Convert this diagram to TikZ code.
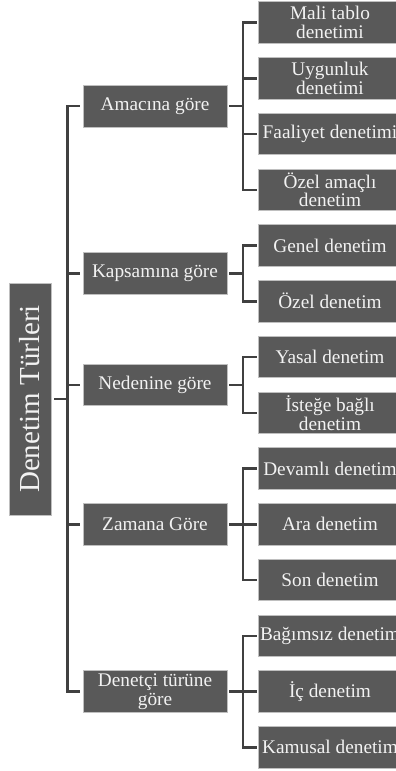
\documentclass[tikz,border=0pt]{standalone}
\usepackage{fontspec}
\setmainfont{Liberation Serif}
\definecolor{boxfill}{HTML}{595959}
\definecolor{boxline}{HTML}{BFBFBF}
\definecolor{linec}{HTML}{404040}
\definecolor{txt}{HTML}{F2F2F2}
\begin{document}
\begin{tikzpicture}[x=1pt,y=-1pt,
  box/.style={draw=boxline, fill=boxfill, line width=0.7pt, text=txt,
    font=\fontsize{19.3}{18.8}\selectfont, align=center,
    minimum width=144pt, minimum height=41.5pt, inner sep=0pt},
  rootbox/.style={box, rotate=90, minimum width=232pt, minimum height=42pt,
    font=\fontsize{29}{30}\selectfont},
  conn/.style={draw=linec, line width=2.5pt}]
\useasboundingbox (0,0) rectangle (396,771);

% root
\node[rootbox] (root) at (30,399) {Denetim Türleri};

% level 1
\node[box] (a) at (155,106.1) {Amacına göre};
\node[box] (b) at (155,273.4) {Kapsamına göre};
\node[box] (c) at (155,384.9) {Nedenine göre};
\node[box] (d) at (155,524.25) {Zamana Göre};
\node[box] (e) at (155,691.5) {Denetçi türüne\\göre};

% level 2
\node[box] (a1) at (330,22.5) {Mali tablo\\denetimi};
\node[box] (a2) at (330,78.25) {Uygunluk\\denetimi};
\node[box] (a3) at (330,134) {Faaliyet denetimi};
\node[box] (a4) at (330,189.75) {Özel amaçlı\\denetim};
\node[box] (b1) at (330,245.5) {Genel denetim};
\node[box] (b2) at (330,301.25) {Özel denetim};
\node[box] (c1) at (330,357) {Yasal denetim};
\node[box] (c2) at (330,412.75) {İsteğe bağlı\\denetim};
\node[box] (d1) at (330,468.5) {Devamlı denetim};
\node[box] (d2) at (330,524.25) {Ara denetim};
\node[box] (d3) at (330,580) {Son denetim};
\node[box] (e1) at (330,635.75) {Bağımsız denetim};
\node[box] (e2) at (330,691.5) {İç denetim};
\node[box] (e3) at (330,747.25) {Kamusal denetim};

% root connectors
\draw[conn, shorten <=3pt] (root.south) -- ++(16,0) coordinate (t);
\foreach \n in {a,b,c,d,e}
  \draw[conn, shorten >=3pt] (t) |- (\n.west);

% level-2 connectors
\foreach \p/\kids in {a/{a1,a2,a3,a4}, b/{b1,b2}, c/{c1,c2}, d/{d1,d2,d3}, e/{e1,e2,e3}}{
  \draw[conn, shorten <=2pt] (\p.east) -- ++(15.5,0) coordinate (s\p);
  \foreach \k in \kids
    \draw[conn, shorten >=1pt] (s\p) |- (\k.west);
}
\end{tikzpicture}
\end{document}
